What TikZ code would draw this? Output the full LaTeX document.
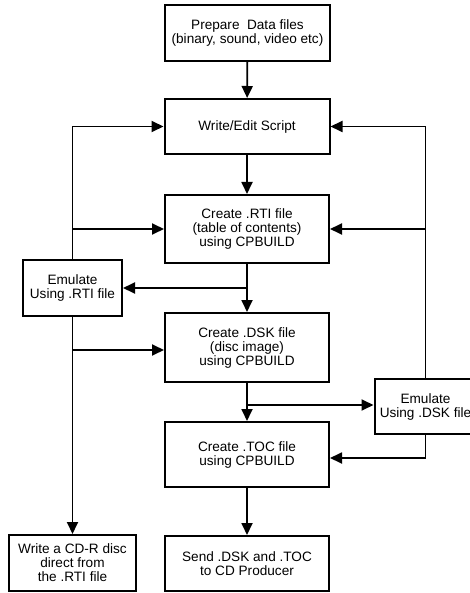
\documentclass[tikz,border=0pt]{standalone}
\usepackage{fontspec}
\setmainfont{Liberation Sans}
\usetikzlibrary{arrows.meta}
\begin{document}
\begin{tikzpicture}[x=1pt,y=-1pt,
  box/.style={draw,line width=2pt,inner sep=0pt,align=center,
    font=\fontsize{13.6}{14}\selectfont},
  conn/.style={line width=1.8pt},
  arr/.style={conn,-{Triangle[length=12pt,width=11pt]}}]
\useasboundingbox (0,0) rectangle (470,593);
\node[box,minimum width=165pt,minimum height=56pt] (prep) at (247.5,33) {Prepare\ \ Data files\\(binary, sound, video etc)};
\node[box,minimum width=165pt,minimum height=55pt] (write) at (247,126.5) {Write/Edit Script};
\node[box,minimum width=164pt,minimum height=68pt] (rti) at (247,229) {Create .RTI file\\(table of contents)\\using CPBUILD};
\node[box,minimum width=164pt,minimum height=69pt] (dsk) at (247,347.5) {Create .DSK file\\(disc image)\\using CPBUILD};
\node[box,minimum width=164pt,minimum height=65pt] (toc) at (247,454.5) {Create .TOC file\\using CPBUILD};
\node[box,minimum width=164pt,minimum height=55pt] (send) at (247,563.5) {Send .DSK and .TOC\\to CD Producer};
\node[box,minimum width=99pt,minimum height=56pt] (emrti) at (72.5,287.5) {Emulate\\Using .RTI file};
\node[box,minimum width=102pt,minimum height=55pt] (emdsk) at (425.5,406.5) {Emulate\\Using .DSK file};
\node[box,minimum width=127pt,minimum height=56pt] (cdr) at (72.5,563) {Write a CD-R disc\\direct from\\the .RTI file};
\coordinate (j1) at (247,288);
\coordinate (j2) at (247,405);
\draw[arr] (prep) -- (write);
\draw[arr] (write) -- (rti);
\draw[conn] (rti.south) -- (j1);
\draw[arr] (j1) -- (emrti.east |- j1);
\draw[arr] (j1) -- (dsk.north);
\draw[arr] (emrti.north) |- (write.west);
\draw[arr] (emrti.north |- rti.west) -- (rti.west);
\draw[arr] (emrti.south) -- (cdr.north);
\draw[arr] (emrti.south |- 0,350) -- (dsk.west |- 0,350);
\draw[conn] (dsk.south) -- (j2);
\draw[arr] (j2) -- (emdsk.west |- j2);
\draw[arr] (j2) -- (toc.north);
\draw[arr] (emdsk.north) |- (write.east);
\draw[arr] (emdsk.north |- rti.east) -- (rti.east);
\draw[arr] (emdsk.south) |- (toc.east |- 0,458);
\draw[arr] (toc) -- (send);
\end{tikzpicture}
\end{document}
